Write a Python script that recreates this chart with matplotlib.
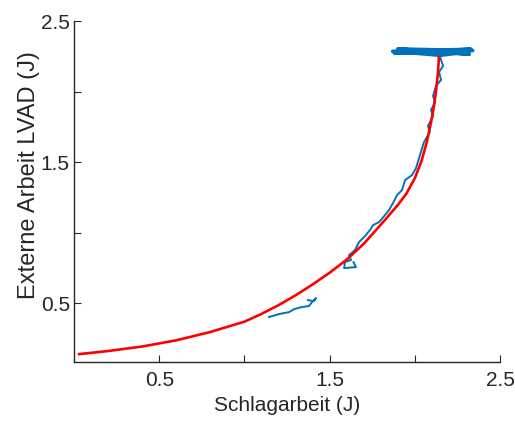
import matplotlib.pyplot as plt

# Modellkurve (rot)
fit_x = [0.03, 0.2, 0.4, 0.6, 0.8, 1.0, 1.1, 1.2, 1.3, 1.4, 1.5, 1.6, 1.7,
         1.8, 1.9, 1.95, 2.0, 2.04, 2.07, 2.095, 2.113, 2.125, 2.135, 2.142]
fit_y = [0.138, 0.160, 0.192, 0.236, 0.295, 0.368, 0.423, 0.485, 0.555, 0.632,
         0.715, 0.808, 0.920, 1.055, 1.195, 1.275, 1.385, 1.510, 1.640, 1.780,
         1.900, 2.010, 2.125, 2.245]

# Messdaten (blau), oberer Abschnitt
mess_x = [2.148, 2.166, 2.142, 2.154, 2.124, 2.107, 2.119, 2.095, 2.107, 2.077,
          2.089, 2.054, 2.036, 2.007, 1.984, 1.943, 1.925, 1.896, 1.872, 1.849,
          1.825, 1.790, 1.755, 1.737, 1.708, 1.673, 1.649, 1.614, 1.626, 1.590,
          1.585, 1.655, 1.640]
mess_y = [2.245, 2.181, 2.138, 2.082, 2.039, 1.968, 1.926, 1.869, 1.826, 1.755,
          1.713, 1.642, 1.571, 1.457, 1.408, 1.372, 1.301, 1.266, 1.209, 1.160,
          1.124, 1.074, 1.053, 1.018, 0.975, 0.933, 0.876, 0.840, 0.805, 0.791,
          0.748, 0.755, 0.790]

# Messdaten (blau), Plateau oben
plat_x = [2.14, 1.87, 2.33, 1.88, 2.34, 1.90, 2.32, 1.93, 2.30, 2.14]
plat_y = [2.258, 2.285, 2.300, 2.272, 2.290, 2.302, 2.265, 2.296, 2.278, 2.256]

# Messdaten (blau), unterer Abschnitt
low_x = [1.144, 1.203, 1.262, 1.291, 1.338, 1.379, 1.397, 1.420, 1.408, 1.373]
low_y = [0.401, 0.422, 0.436, 0.457, 0.472, 0.479, 0.507, 0.535, 0.514, 0.521]

xticks = [0.5, 1.0, 1.5, 2.0, 2.5]
xlabels = ["0.5", "", "1.5", "", "2.5"]
yticks = [0.5, 1.0, 1.5, 2.0, 2.5]
ylabels = ["0.5", "", "1.5", "", "2.5"]

plt.rcParams["font.family"] = ["Liberation Sans", "DejaVu Sans"]
grau = "#262626"

fig = plt.figure(figsize=(5.15, 4.21), dpi=100)
ax = fig.add_axes([0.1437, 0.1394, 0.8272, 0.8107])

blau = "#0072BD"
ax.plot(plat_x, plat_y, color=blau, lw=2.6, solid_joinstyle="round")
ax.plot(mess_x, mess_y, color=blau, lw=1.4)
ax.plot(low_x, low_y, color=blau, lw=1.4)
ax.plot(fit_x, fit_y, color="#ff0000", lw=1.9)

ax.set_xlim(0, 2.5)
ax.set_ylim(0.08, 2.5)
ax.set_xticks(xticks, xlabels)
ax.set_yticks(yticks, ylabels)
ax.spines["top"].set_visible(False)
ax.spines["right"].set_visible(False)
for s in ["left", "bottom"]:
    ax.spines[s].set_color(grau)
    ax.spines[s].set_linewidth(1.0)
ax.tick_params(direction="in", length=5, width=0.8, color=grau,
               labelcolor=grau, labelsize=15)
ax.tick_params(axis="x", pad=6)
ax.tick_params(axis="y", pad=3)

ax.set_xlabel("Schlagarbeit (J)", fontsize=15, color=grau)
ax.set_ylabel("Externe Arbeit LVAD (J)", fontsize=17, color=grau)
ax.xaxis.set_label_coords(0.5, -0.10)
ax.yaxis.set_label_coords(-0.08, 0.55)

fig.savefig("out.png", dpi=100)
